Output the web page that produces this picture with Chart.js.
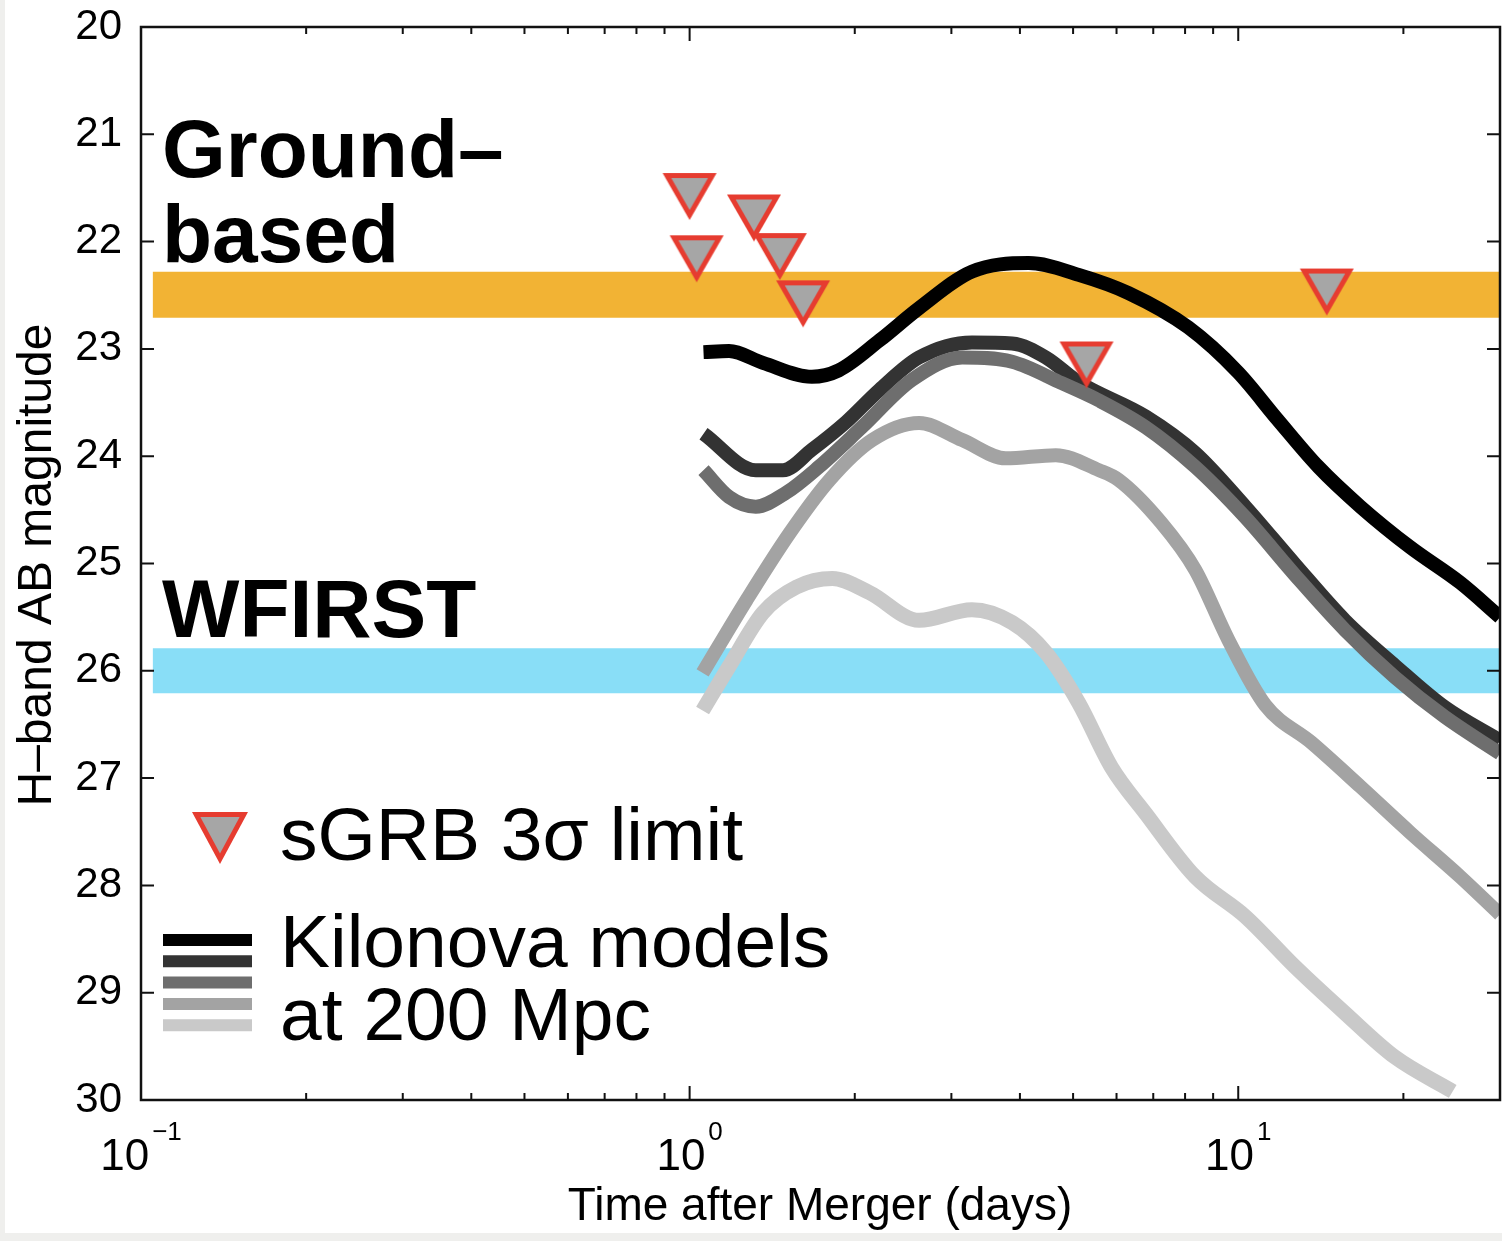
<!DOCTYPE html>
<html>
<head>
<meta charset="utf-8">
<title>Kilonova H-band light curves</title>
<script src="https://cdn.jsdelivr.net/npm/chart.js@4.4.1/dist/chart.umd.min.js"></script>
<style>
  html, body { margin: 0; padding: 0; background: #fff; }
  #wrap { width: 1502px; height: 1241px; }
</style>
</head>
<body>
<div id="wrap"><canvas id="kilonova-chart" width="1502" height="1241"></canvas></div>
<script>
// axis ranges and ticks
const dayMin = 0.1;
const dayMax = 30;
const magTicks = [20, 21, 22, 23, 24, 25, 26, 27, 28, 29, 30];
const decadeExps = [-1, 0, 1];

// sGRB 3-sigma upper limits
const limitDays = [1.00, 1.03, 1.31, 1.46, 1.61, 5.29, 14.5];
const limitMags = [21.58, 22.16, 21.78, 22.14, 22.58, 23.15, 22.47];

// survey depth bands (bright edge, faint edge)
const bandDays = [0.105, 30];
const groundBand = [22.28, 22.71];
const wfirstBand = [25.79, 26.21];

// kilonova models at 200 Mpc
const model1Days = [1.06, 1.18, 1.36, 1.67, 1.87, 2.22, 2.62, 3.27, 4.15, 5.12, 6.31, 8.11, 10.0, 11.8, 14.0, 16.7, 20.6, 25.4, 30];
const model1Mags = [23.03, 23.02, 23.13, 23.26, 23.20, 22.92, 22.62, 22.28, 22.20, 22.31, 22.48, 22.80, 23.22, 23.66, 24.10, 24.47, 24.85, 25.18, 25.50];

const model2Days = [1.06, 1.32, 1.48, 1.67, 1.93, 2.22, 2.62, 3.27, 3.87, 4.46, 5.12, 6.78, 8.35, 10.3, 12.7, 15.65, 19.3, 23.8, 30];
const model2Mags = [23.79, 24.13, 24.13, 23.94, 23.68, 23.38, 23.08, 22.94, 22.95, 23.08, 23.31, 23.63, 23.97, 24.47, 25.01, 25.53, 25.95, 26.34, 26.65];

const model3Days = [1.06, 1.18, 1.32, 1.50, 1.72, 2.06, 2.54, 3.14, 3.87, 4.77, 5.57, 6.78, 8.35, 10.3, 12.7, 15.65, 19.3, 23.8, 30];
const model3Mags = [24.13, 24.38, 24.47, 24.34, 24.10, 23.73, 23.29, 23.08, 23.12, 23.32, 23.48, 23.73, 24.10, 24.57, 25.11, 25.62, 26.06, 26.43, 26.77];

const model4Days = [1.056, 1.27, 1.52, 1.80, 2.15, 2.62, 3.14, 3.77, 4.65, 5.57, 6.05, 7.24, 8.35, 9.59, 11.2, 13.6, 16.7, 20.6, 25.4, 30];
const model4Mags = [26.02, 25.34, 24.72, 24.22, 23.85, 23.69, 23.85, 24.02, 23.99, 24.13, 24.22, 24.62, 25.06, 25.71, 26.32, 26.67, 27.08, 27.51, 27.92, 28.27];

const model5Days = [1.056, 1.18, 1.36, 1.565, 1.82, 2.125, 2.62, 3.27, 3.87, 4.46, 5.12, 5.875, 6.78, 8.35, 10.3, 12.7, 15.65, 19.3, 24.6];
const model5Mags = [26.37, 25.96, 25.46, 25.22, 25.14, 25.27, 25.53, 25.43, 25.55, 25.83, 26.30, 26.90, 27.33, 27.92, 28.29, 28.76, 29.19, 29.60, 29.92];

const modelColors = ['#000000', '#333333', '#6e6e6e', '#a3a3a3', '#c9c9c9'];
const modelWidths = [14, 14, 14, 14, 15];
const FONT = "'Liberation Sans', Arial, Helvetica, sans-serif";

const toPoints = (xs, ys) => xs.map((x, i) => ({ x: x, y: ys[i] }));

// downward triangle with red edge, drawn once and reused as the point image
function makeTriangle(w, h, edge) {
    const c = document.createElement('canvas');
    c.width = w + 4;
    c.height = h + 4;
    const g = c.getContext('2d');
    const A = [2, 2], B = [w + 2, 2], C = [w / 2 + 2, h + 2];
    const a = Math.hypot(B[0] - C[0], B[1] - C[1]);
    const b = Math.hypot(A[0] - C[0], A[1] - C[1]);
    const cc = B[0] - A[0];
    const p = a + b + cc;
    const ix = (a * A[0] + b * B[0] + cc * C[0]) / p;
    const iy = (a * A[1] + b * B[1] + cc * C[1]) / p;
    const r = (w * h) / p;
    const k = (r - edge) / r;
    const tri = (s) => {
        g.beginPath();
        [A, B, C].forEach((v, i) => {
            const x = ix + (v[0] - ix) * s, y = iy + (v[1] - iy) * s;
            if (i === 0) g.moveTo(x, y); else g.lineTo(x, y);
        });
        g.closePath();
        g.fill();
    };
    g.fillStyle = '#e63c30';
    tri(1);
    g.fillStyle = '#a6a6a6';
    tri(k);
    return c;
}

const limitMarker = makeTriangle(54, 47, 5);
const legendMarker = makeTriangle(56, 52, 5);

function modelDataset(days, mags, idx) {
    return {
        data: toPoints(days, mags),
        borderColor: modelColors[idx],
        borderWidth: modelWidths[idx],
        borderJoinStyle: 'round',
        pointRadius: 0,
        cubicInterpolationMode: 'monotone',
        fill: false,
        order: 5 - idx
    };
}

function bandDataset(band, color) {
    return {
        data: toPoints(bandDays, [band[0], band[0]]),
        borderWidth: 0,
        pointRadius: 0,
        backgroundColor: color,
        fill: { value: band[1] },
        order: 10
    };
}

// keep the plot box fixed: no extra room for tick label overhang
function fixBox(size) {
    return (scale) => {
        if (scale.isHorizontal()) scale.height = size; else scale.width = size;
        scale.paddingTop = 0;
        scale.paddingBottom = 0;
        scale.paddingLeft = 0;
        scale.paddingRight = 0;
    };
}

// frame, inward ticks, exponent labels, titles, annotations and legend
const decorations = {
    id: 'decorations',
    beforeDraw(chart) {
        const ctx = chart.ctx;
        ctx.save();
        ctx.fillStyle = '#efefed';
        ctx.fillRect(0, 0, chart.width, chart.height);
        ctx.fillStyle = '#ffffff';
        ctx.fillRect(5, 0, chart.width - 5, chart.height - 8);
        ctx.restore();
    },
    afterDraw(chart) {
        const ctx = chart.ctx;
        const xs = chart.scales.x, ys = chart.scales.y;
        const { left, right, top, bottom } = chart.chartArea;
        ctx.save();

        // box
        ctx.strokeStyle = '#111';
        ctx.lineWidth = 2.5;
        ctx.strokeRect(left, top, right - left, bottom - top);

        // magnitude ticks on both sides
        ctx.lineWidth = 2;
        magTicks.forEach(m => {
            const py = ys.getPixelForValue(m);
            ctx.beginPath();
            ctx.moveTo(left, py); ctx.lineTo(left + 13, py);
            ctx.moveTo(right, py); ctx.lineTo(right - 13, py);
            ctx.stroke();
        });

        // log ticks on top and bottom
        decadeExps.forEach(e => {
            for (let k = 1; k <= 9; k++) {
                const v = k * Math.pow(10, e);
                if (v < dayMin || v > dayMax) continue;
                const px = xs.getPixelForValue(v);
                const len = k === 1 ? 14 : 7;
                ctx.beginPath();
                ctx.moveTo(px, bottom); ctx.lineTo(px, bottom - len);
                ctx.moveTo(px, top); ctx.lineTo(px, top + len);
                ctx.stroke();
            }
        });

        // 10^n labels
        ctx.fillStyle = '#000';
        ctx.textBaseline = 'alphabetic';
        ctx.textAlign = 'left';
        decadeExps.forEach(e => {
            const px = xs.getPixelForValue(Math.pow(10, e));
            const exp = e < 0 ? '\u2212' + Math.abs(e) : String(e);
            ctx.font = '44px ' + FONT;
            const wBase = ctx.measureText('10').width;
            ctx.font = '26px ' + FONT;
            const wExp = ctx.measureText(exp).width;
            const x0 = px - (wBase + 3 + wExp) / 2;
            ctx.font = '44px ' + FONT;
            ctx.fillText('10', x0, 1170);
            ctx.font = '26px ' + FONT;
            ctx.fillText(exp, x0 + wBase + 3, 1140);
        });

        // axis titles
        ctx.font = '46px ' + FONT;
        ctx.textAlign = 'center';
        ctx.fillText('Time after Merger (days)', 820, 1220);
        ctx.save();
        ctx.translate(38, 565);
        ctx.rotate(-Math.PI / 2);
        ctx.textBaseline = 'middle';
        ctx.font = '48px ' + FONT;
        ctx.fillText('H\u2013band AB magnitude', 0, 0);
        ctx.restore();

        // band annotations
        ctx.textAlign = 'left';
        ctx.font = 'bold 82px ' + FONT;
        ctx.fillText('Ground\u2013', 162, 177);
        ctx.fillText('based', 162, 262);
        ctx.fillText('WFIRST', 162, 637);

        // legend
        ctx.drawImage(legendMarker, 220 - legendMarker.width / 2, 838 - legendMarker.height / 2);
        ctx.font = '75px ' + FONT;
        ctx.fillText('sGRB 3\u03c3 limit', 280, 860);
        ctx.lineWidth = 12;
        modelColors.forEach((col, i) => {
            const ly = 940 + i * 21.3;
            ctx.strokeStyle = col;
            ctx.beginPath();
            ctx.moveTo(163, ly); ctx.lineTo(252, ly);
            ctx.stroke();
        });
        ctx.fillText('Kilonova models', 280, 967);
        ctx.fillText('at 200 Mpc', 280, 1040);

        ctx.restore();
    }
};

Chart.defaults.font.family = FONT;

const kilonovaChart = new Chart(document.getElementById('kilonova-chart'), {
    type: 'line',
    data: {
        datasets: [
            {
                data: toPoints(limitDays, limitMags),
                showLine: false,
                pointStyle: limitMarker,
                pointRadius: 27,
                order: 0
            },
            modelDataset(model1Days, model1Mags, 0),
            modelDataset(model2Days, model2Mags, 1),
            modelDataset(model3Days, model3Mags, 2),
            modelDataset(model4Days, model4Mags, 3),
            modelDataset(model5Days, model5Mags, 4),
            bandDataset(groundBand, '#f2b334'),
            bandDataset(wfirstBand, '#89def7')
        ]
    },
    options: {
        responsive: false,
        animation: false,
        layout: { autoPadding: false, padding: { top: 27, right: 2, left: 0, bottom: 0 } },
        scales: {
            x: {
                type: 'logarithmic',
                min: dayMin,
                max: dayMax,
                ticks: { display: false },
                grid: { display: false },
                border: { display: false },
                afterFit: fixBox(141)
            },
            y: {
                type: 'linear',
                reverse: true,
                min: 20,
                max: 30,
                ticks: {
                    stepSize: 1,
                    color: '#000',
                    padding: 11,
                    font: { size: 42 }
                },
                grid: { display: false },
                border: { display: false },
                afterFit: fixBox(141)
            }
        },
        plugins: {
            legend: { display: false },
            tooltip: { enabled: false }
        }
    },
    plugins: [decorations]
});
</script>
</body>
</html>
